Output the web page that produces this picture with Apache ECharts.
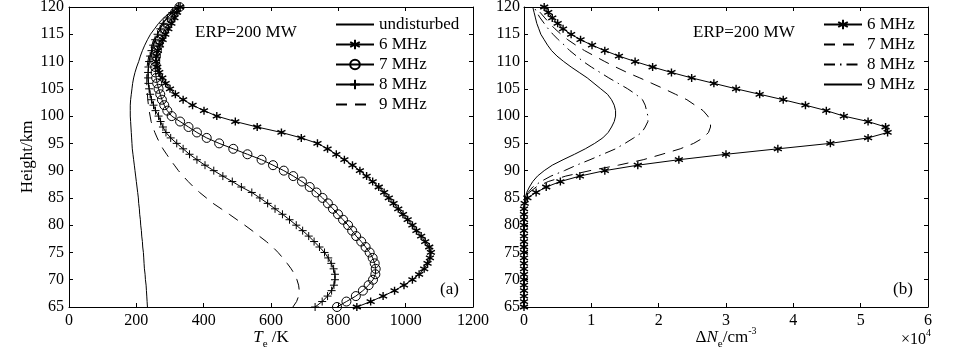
<!DOCTYPE html>
<html>
<head>
<meta charset="utf-8">
<script src="https://cdn.jsdelivr.net/npm/echarts@6/dist/echarts.min.js"></script>
<style>
  html, body { margin: 0; padding: 0; background: #fff; }
  #chart { width: 955px; height: 352px; }
</style>
</head>
<body>
<div id="chart"></div>
<script>
// heights (km), one point per km
var heights = [65,66,67,68,69,70,71,72,73,74,75,76,77,78,79,80,81,82,83,84,85,86,87,88,89,90,
  91,92,93,94,95,96,97,98,99,100,101,102,103,104,105,106,107,108,109,110,
  111,112,113,114,115,116,117,118,119,120];

// (a) electron temperature Te / K
var teUndisturbed = [233,232,231,230,229,227,226,224,223,222,221,219,218,216,215,213,212,210,209,207,
  206,204,202,200,198,196,194,192,190,188,187,186,185,184,183,182,182,182,183,185,
  187,189,192,196,201,207,212,218,225,233,242,254,266,281,300,322];
var te6MHz = [855,896,933,967,995,1020,1040,1055,1065,1072,1075,1070,1058,1046,1032,1020,1006,992,978,964,
  950,936,920,902,884,864,842,818,794,768,738,690,631,559,494,439,401,367,339,316,
  300,287,277,268,262,259,260,264,270,278,286,295,304,313,321,330];
var te7MHz = [796,824,852,873,890,903,910,911,908,902,893,881,868,853,841,829,814,799,784,769,
  753,735,715,692,666,638,606,572,530,488,446,409,380,355,330,305,292,283,276,271,
  266,262,259,257,256,256,258,261,265,270,277,285,294,304,315,328];
var te8MHz = [731,752,768,780,787,790,790,786,779,770,759,744,728,712,694,675,655,634,612,590,
  567,543,512,485,457,430,404,380,358,339,320,302,288,279,272,266,257,251,245,241,
  238,236,235,235,236,238,241,245,250,256,263,271,280,292,307,325];
var te9MHz = [665,676,682,684,682,677,670,660,648,635,621,605,586,565,544,522,499,476,452,428,
  408,388,370,354,339,325,313,301,290,279,270,262,255,249,244,241,238,236,234,233,
  232,231,231,231,232,234,237,241,246,252,259,267,277,290,306,323];

// (b) electron density change dNe, in units of 1e4 cm^-3
var dn6MHz = [0,0,0,0,0,0,0,0,0,0,0,0,0,0,0,0,0,0,0,0.01,
  0.05,0.18,0.33,0.54,0.83,1.20,1.69,2.30,3.00,3.77,4.55,5.11,5.40,5.37,5.11,4.75,4.49,4.18,3.85,3.50,
  3.15,2.82,2.49,2.19,1.91,1.65,1.41,1.20,1.01,0.84,0.70,0.58,0.50,0.42,0.36,0.30];
var dn7MHz = [0,0,0,0,0,0,0,0,0,0,0,0,0,0,0,0,0,0,0,0.01,
  0.03,0.08,0.18,0.36,0.62,0.98,1.40,1.77,2.05,2.32,2.52,2.66,2.74,2.77,2.77,2.73,2.66,2.54,2.42,2.25,
  2.08,1.90,1.72,1.53,1.36,1.20,1.05,0.90,0.77,0.65,0.55,0.46,0.38,0.31,0.24,0.18];
var dn8MHz = [0,0,0,0,0,0,0,0,0,0,0,0,0,0,0,0,0,0,0,0.01,
  0.02,0.06,0.13,0.25,0.40,0.60,0.78,0.98,1.17,1.36,1.50,1.63,1.75,1.80,1.84,1.84,1.82,1.80,1.76,1.66,
  1.54,1.40,1.26,1.13,1.00,0.88,0.78,0.68,0.60,0.51,0.43,0.36,0.30,0.24,0.19,0.15];
var dn9MHz = [0,0,0,0,0,0,0,0,0,0,0,0,0,0,0,0,0,0,0,0.01,
  0.02,0.04,0.08,0.13,0.20,0.30,0.42,0.58,0.75,0.91,1.05,1.17,1.25,1.30,1.34,1.36,1.36,1.34,1.30,1.24,
  1.14,1.04,0.94,0.82,0.70,0.59,0.49,0.41,0.35,0.30,0.25,0.22,0.19,0.17,0.15,0.13];

var FONT = 'Liberation Serif';
var STAR = 'path://M5,0V10M0.67,2.5L9.33,7.5M9.33,2.5L0.67,7.5';
var PLUS = 'path://M5,0V10M0,5H10';

function pairs(xs){
  return xs.map(function(v, i){ return [v, heights[i]]; });
}

function mkSeries(name, xs, idx, opt){
  return {
    name: name,
    type: 'line',
    xAxisIndex: idx,
    yAxisIndex: idx,
    data: pairs(xs),
    showSymbol: !!opt.symbol,
    symbol: opt.symbol || 'none',
    symbolSize: opt.size || 8,
    animation: false,
    lineStyle: { color: '#000', width: 1, type: opt.dash || 'solid' },
    itemStyle: { color: 'none', borderColor: '#000', borderWidth: opt.bw || 1 }
  };
}

var nameRich = {
  i: { fontFamily: FONT, fontSize: 17, fontStyle: 'italic', lineHeight: 24, verticalAlign: 'middle', color: '#000' },
  n: { fontFamily: FONT, fontSize: 17, lineHeight: 24, verticalAlign: 'middle', color: '#000' },
  s: { fontFamily: FONT, fontSize: 11, lineHeight: 24, verticalAlign: 'bottom', color: '#000' },
  p: { fontFamily: FONT, fontSize: 10, lineHeight: 24, verticalAlign: 'top', color: '#000' }
};

function frameAxis(gi, pos, min, max, interval, extra){
  var a = {
    gridIndex: gi,
    type: 'value',
    position: pos,
    min: min, max: max, interval: interval,
    axisLine: { show: true, onZero: false, lineStyle: { color: '#000', width: 1 } },
    axisTick: { show: true, inside: true, length: 4, lineStyle: { color: '#000' } },
    axisLabel: { show: false },
    splitLine: { show: false }
  };
  for (var k in extra) a[k] = extra[k];
  return a;
}

function tickLabels(margin){
  return { show: true, fontFamily: FONT, fontSize: 16, color: '#000', margin: margin,
    formatter: function(v){ return String(v); } };
}

// lines without markers: hide the legend's placeholder circle
var noMark = { borderWidth: 0, borderColor: 'transparent', color: 'transparent' };

var legendText = { fontFamily: FONT, fontSize: 17, color: '#000', lineHeight: 17 };

var chart = echarts.init(document.getElementById('chart'));
chart.setOption({
  backgroundColor: '#fff',
  animation: false,
  grid: [
    { left: 69, right: 482, top: 7, bottom: 45, outerBoundsMode: 'none', containLabel: false },
    { left: 524, right: 27, top: 7, bottom: 45, outerBoundsMode: 'none', containLabel: false }
  ],
  xAxis: [
    frameAxis(0, 'bottom', 0, 1200, 200, {
      axisLabel: tickLabels(6),
      name: '{i|T}{s|e}{n| /K}', nameLocation: 'middle', nameGap: 19, nameMoveOverlap: false,
      nameTextStyle: { rich: nameRich }
    }),
    frameAxis(1, 'bottom', 0, 6, 1, {
      axisLabel: tickLabels(6),
      name: '{n|\u0394}{i|N}{s|e}{n|/cm}{p|-3}', nameLocation: 'middle', nameGap: 19, nameMoveOverlap: false,
      nameTextStyle: { rich: nameRich }
    }),
    frameAxis(0, 'top', 0, 1200, 200, {}),
    frameAxis(1, 'top', 0, 6, 1, {})
  ],
  yAxis: [
    frameAxis(0, 'left', 65, 120, 5, {
      axisLabel: tickLabels(5),
      name: 'Height/km', nameLocation: 'middle', nameGap: 32,
      nameTextStyle: { fontFamily: FONT, fontSize: 17, color: '#000' }
    }),
    frameAxis(1, 'left', 65, 120, 5, {
      axisLabel: tickLabels(4)
    }),
    frameAxis(0, 'right', 65, 120, 5, {}),
    frameAxis(1, 'right', 65, 120, 5, {})
  ],
  legend: [
    {
      left: 335, top: 16, orient: 'vertical', padding: 0,
      itemWidth: 38, itemHeight: 12, itemGap: 3,
      textStyle: legendText,
      formatter: function(n){ return n.slice(2); },
      data: [
        { name: 'a:undisturbed', itemStyle: noMark },
        'a:6 MHz', 'a:7 MHz', 'a:8 MHz',
        { name: 'a:9 MHz', itemStyle: noMark }
      ]
    },
    {
      left: 823, top: 16, orient: 'vertical', padding: 0,
      itemWidth: 38, itemHeight: 12, itemGap: 3,
      textStyle: legendText,
      formatter: function(n){ return n.slice(2); },
      data: [
        'b:6 MHz',
        { name: 'b:7 MHz', itemStyle: noMark },
        { name: 'b:8 MHz', itemStyle: noMark },
        { name: 'b:9 MHz', itemStyle: noMark }
      ]
    }
  ],
  graphic: [
    { type: 'text', left: 195, top: 24, style: { text: 'ERP=200 MW', font: '17px "Liberation Serif"', fill: '#000' } },
    { type: 'text', left: 693, top: 24, style: { text: 'ERP=200 MW', font: '17px "Liberation Serif"', fill: '#000' } },
    { type: 'text', left: 440, top: 281, style: { text: '(a)', font: '17px "Liberation Serif"', fill: '#000' } },
    { type: 'text', left: 893, top: 281, style: { text: '(b)', font: '17px "Liberation Serif"', fill: '#000' } },
    { type: 'text', left: 901, top: 328, style: {
        text: '{n|\u00d710}{p|4}',
        rich: {
          n: { fontFamily: FONT, fontSize: 16, lineHeight: 20, verticalAlign: 'bottom', fill: '#000' },
          p: { fontFamily: FONT, fontSize: 10, lineHeight: 20, verticalAlign: 'top', fill: '#000' }
        } } }
  ],
  series: [
    mkSeries('a:undisturbed', teUndisturbed, 0, {}),
    mkSeries('a:6 MHz', te6MHz, 0, { symbol: STAR, size: 8, bw: 1.4 }),
    mkSeries('a:7 MHz', te7MHz, 0, { symbol: 'circle', size: 9 }),
    mkSeries('a:8 MHz', te8MHz, 0, { symbol: PLUS, size: 8 }),
    mkSeries('a:9 MHz', te9MHz, 0, { dash: [11, 8] }),
    mkSeries('b:6 MHz', dn6MHz, 1, { symbol: STAR, size: 8, bw: 1.4 }),
    mkSeries('b:7 MHz', dn7MHz, 1, { dash: [11, 8] }),
    mkSeries('b:8 MHz', dn8MHz, 1, { dash: [11, 5, 1.5, 5] }),
    mkSeries('b:9 MHz', dn9MHz, 1, {})
  ]
});
</script>
</body>
</html>
